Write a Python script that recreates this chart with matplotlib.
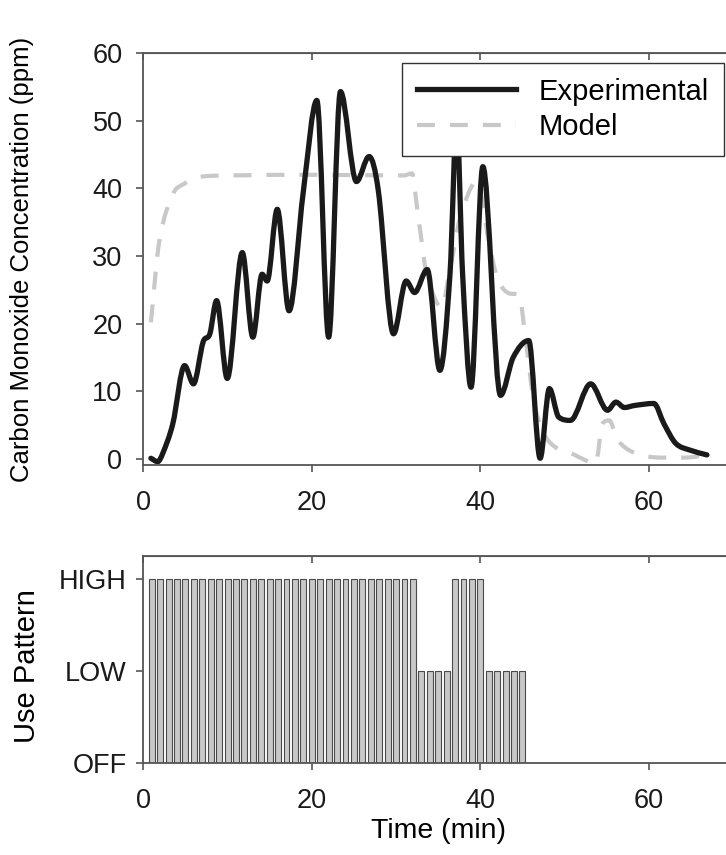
import numpy as np
import matplotlib
matplotlib.use("Agg")
import matplotlib.pyplot as plt
from matplotlib.path import Path
from matplotlib.patches import PathPatch
from matplotlib.lines import Line2D

plt.rcParams['font.family'] = ['Liberation Sans', 'DejaVu Sans']

# CO concentration, measured (ppm)
exp_time = [0.9, 1.7, 2.3, 3.5, 4.9, 5.95, 7.1, 7.9, 8.7, 9.96, 11.75, 13.0,
            14.1, 14.7, 15.9, 17.3, 19.0, 20.6, 22.0, 23.4, 25.3, 26.8, 27.9,
            29.7, 31.2, 32.2, 33.7, 35.2, 36.4, 37.2, 37.9, 38.9, 40.3, 42.4,
            43.9, 45.75, 47.1, 48.2, 49.3, 50.7, 53.1, 55.1, 56.1, 57.1, 58.3,
            60.6, 61.8, 63.2, 64.9, 66.9]
exp_conc = [0.1, -0.4, 0.8, 5.2, 13.8, 11.1, 17.3, 18.5, 23.4, 11.9, 30.5, 18.0,
            27.3, 26.3, 36.9, 21.9, 39.6, 53.0, 18.0, 54.3, 41.0, 44.7, 39.6,
            18.5, 26.3, 24.6, 28.0, 13.1, 27.3, 50.0, 27.3, 10.6, 43.2, 9.4,
            15.0, 17.5, 0.1, 10.4, 6.2, 5.7, 11.1, 7.2, 8.4, 7.6, 7.9,
            8.2, 5.2, 2.3, 1.3, 0.6]

# CO concentration, model prediction (ppm)
mod_time = [0.9, 1.9, 3.5, 4.9, 6.7, 10.2, 20.0, 30.9, 31.9, 32.5, 33.0, 33.6,
            35.4, 36.4, 37.6, 39.6, 41.0, 42.0, 43.2, 44.6, 45.4, 46.4, 48.0,
            51.2, 53.7, 54.5, 55.3, 56.3, 58.3, 61.5, 64.3, 67.0]
mod_conc = [20.2, 32.2, 39.1, 40.7, 41.7, 41.9, 42.0, 41.9, 42.2, 37.1, 32.5, 27.5,
            22.4, 28.0, 35.6, 41.0, 32.2, 26.8, 24.6, 24.2, 17.5, 8.2, 2.8,
            0.6, -0.6, 5.2, 5.7, 2.8, 0.9, 0.2, 0.2, 0.6]

# stove use pattern, one bar per minute (0 = OFF, 1 = LOW, 2 = HIGH)
use_time = list(range(1, 46))
use_level = [2] * 32 + [1] * 4 + [2] * 4 + [1] * 5
use_labels = ['OFF', 'LOW', 'HIGH']


def smooth_path(t, v):
    # piecewise cubic Hermite through the points, flat at local extrema
    t = np.asarray(t, float)
    v = np.asarray(v, float)
    d = np.diff(v) / np.diff(t)
    m = np.zeros(len(t))
    m[0], m[-1] = d[0], d[-1]
    for i in range(1, len(t) - 1):
        if d[i - 1] * d[i] > 0:
            c = (v[i + 1] - v[i - 1]) / (t[i + 1] - t[i - 1])
            lim = 3 * min(abs(d[i - 1]), abs(d[i]))
            m[i] = np.sign(c) * min(abs(c), lim)
    verts = [(t[0], v[0])]
    codes = [Path.MOVETO]
    for i in range(len(t) - 1):
        h = t[i + 1] - t[i]
        verts += [(t[i] + h / 3, v[i] + m[i] * h / 3),
                  (t[i + 1] - h / 3, v[i + 1] - m[i + 1] * h / 3),
                  (t[i + 1], v[i + 1])]
        codes += [Path.CURVE4] * 3
    return Path(verts, codes)


spine_c = '#555555'
exp_c = '#1a1a1a'
mod_c = '#c8c8c8'
mod_dash = (0, (4.3, 3.6))


def style_axes(ax):
    for s in ax.spines.values():
        s.set_color(spine_c)
        s.set_linewidth(1.3)
    ax.tick_params(direction='out', length=5, width=1.2, color=spine_c,
                   labelsize=19.5, labelcolor='#1a1a1a')
    ax.tick_params(axis='x', pad=13)
    top = ax.secondary_xaxis('top')
    top.set_xticks(ax.get_xticks())
    top.tick_params(direction='in', length=5, width=1.2, color=spine_c, labeltop=False)
    top.spines['top'].set_color(spine_c)
    right = ax.secondary_yaxis('right')
    right.set_yticks(ax.get_yticks())
    right.tick_params(direction='in', length=5, width=1.2, color=spine_c, labelright=False)


fig = plt.figure(figsize=(7.26, 8.55), dpi=100)

# concentration panel
ax1 = fig.add_axes([0.1974, 0.4561, 0.8123, 0.4819])
ax1.add_patch(PathPatch(smooth_path(mod_time, mod_conc), fill=False, ec=mod_c,
                        lw=3.0, ls=mod_dash, capstyle='butt'))
ax1.add_patch(PathPatch(smooth_path(exp_time, exp_conc), fill=False, ec=exp_c,
                        lw=3.8, capstyle='round', joinstyle='round'))
ax1.set_xlim(0, 70)
ax1.set_ylim(-0.9, 60)
ax1.set_xticks([0, 20, 40, 60])
ax1.set_yticks(range(0, 61, 10))
style_axes(ax1)
ax1.tick_params(axis='y', pad=10)
ax1.set_ylabel('Carbon Monoxide Concentration (ppm)', fontsize=18.5, va='center')
ax1.yaxis.set_label_coords(-0.2057, 0.5)

handles = [Line2D([], [], color=exp_c, lw=3.8),
           Line2D([], [], color=mod_c, lw=3.0, ls=mod_dash)]
leg = ax1.legend(handles, ['Experimental', 'Model'], loc='upper left',
                 bbox_to_anchor=(402 / 726, 1 - 63 / 855),
                 bbox_transform=fig.transFigure, fontsize=21,
                 handlelength=3.4, handletextpad=0.8, borderpad=0.5,
                 labelspacing=0.27, fancybox=False, framealpha=1,
                 edgecolor='#333333', borderaxespad=0)
leg.get_frame().set_linewidth(1.0)
leg.set_zorder(5)

# use pattern panel
ax2 = fig.add_axes([0.1974, 0.1076, 0.8123, 0.2421])
ax2.bar(use_time, use_level, width=0.7, color='#c8c8c8', edgecolor='#4a4a4a',
        linewidth=0.8)
ax2.set_xlim(0, 70)
ax2.set_ylim(0, 2.25)
ax2.set_xticks([0, 20, 40, 60])
ax2.set_yticks([0, 1, 2])
ax2.set_yticklabels(use_labels)
style_axes(ax2)
ax2.tick_params(axis='y', pad=7)
ax2.set_ylabel('Use Pattern', fontsize=21, va='center')
ax2.yaxis.set_label_coords(-0.197, 0.47)
ax2.set_xlabel('Time (min)', fontsize=20.5)
ax2.xaxis.set_label_coords(0.501, -0.265)

fig.savefig('out.png', dpi=100)
